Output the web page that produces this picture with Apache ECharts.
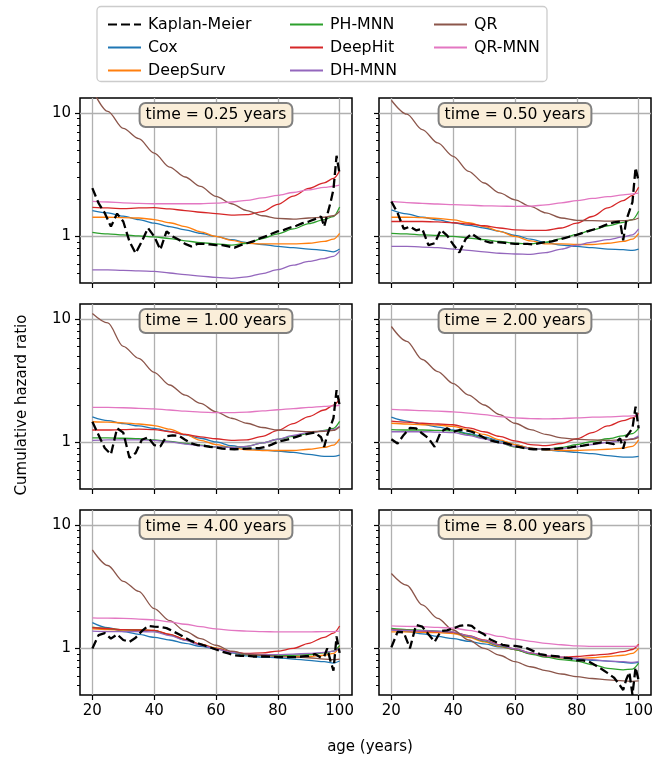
<!DOCTYPE html>
<html><head><meta charset="utf-8">
<script src="https://cdn.jsdelivr.net/npm/echarts@6/dist/echarts.min.js"></script>
<style>html,body{margin:0;padding:0;background:#fff}#c{width:667px;height:766px}</style>
</head><body><div id="c"></div>
<script>
// ---------------- data ----------------
const TIMES = ['0.25', '0.50', '1.00', '2.00', '4.00', '8.00'];
const X_TICKS = [20, 40, 60, 80, 100];
const Y_MAJOR = [1, 10];
const Y_MINOR = [0.5, 0.6, 0.7, 0.8, 0.9, 2, 3, 4, 5, 6, 7, 8, 9];

const AGE = [20, 25, 30, 35, 40, 45, 50, 55, 60, 65, 70, 75, 80, 85, 90, 95, 98, 100];
const KM_AGE = [20, 22, 24, 26, 28, 30, 32, 34, 36, 38, 40, 42, 44, 46, 48, 50, 52, 54, 56, 58,
  60, 62, 64, 66, 68, 70, 72, 74, 76, 78, 80, 82, 84, 86, 88, 90, 92, 94, 95, 96, 97, 98, 99, 100];

const KM = [
  [2.46, 1.86, 1.55, 1.2, 1.53, 1.32, 0.91, 0.73, 0.91, 1.17, 1.0, 0.78, 1.1, 1.0, 0.94, 0.87, 0.83, 0.87, 0.87, 0.86,
   0.85, 0.85, 0.83, 0.81, 0.85, 0.88, 0.91, 0.96, 1.0, 1.05, 1.1, 1.13, 1.18, 1.22, 1.28, 1.32, 1.38, 1.45, 1.2, 1.5, 1.86, 2.4, 4.5, 3.2],
  [1.92, 1.55, 1.15, 1.2, 1.12, 1.15, 0.85, 0.88, 1.13, 1.02, 0.86, 0.74, 0.95, 1.05, 0.97, 0.92, 0.89, 0.9, 0.89, 0.88,
   0.87, 0.87, 0.87, 0.86, 0.88, 0.9, 0.91, 0.94, 0.97, 1.0, 1.03, 1.07, 1.11, 1.15, 1.2, 1.26, 1.3, 1.32, 0.93, 1.35, 1.6, 1.9, 3.6, 2.8],
  [1.47, 1.15, 0.9, 0.8, 1.3, 1.2, 0.75, 0.82, 1.05, 1.1, 0.95, 0.93, 1.12, 1.14, 1.13, 1.05, 0.98, 0.95, 0.94, 0.92,
   0.91, 0.89, 0.885, 0.88, 0.885, 0.89, 0.895, 0.9, 0.92, 0.96, 1.01, 1.04, 1.07, 1.11, 1.15, 1.18, 1.2, 1.1, 0.92, 1.15, 1.34, 1.57, 2.65, 2.0],
  [1.06, 0.98, 1.15, 1.31, 1.3, 1.18, 1.08, 0.92, 1.22, 1.3, 1.22, 1.26, 1.26, 1.22, 1.16, 1.09, 1.04, 1.01, 1.0, 0.97,
   0.93, 0.91, 0.89, 0.88, 0.88, 0.88, 0.885, 0.89, 0.9, 0.91, 0.93, 0.94, 0.96, 0.98, 1.0, 0.99, 0.97, 1.08, 0.89, 1.11, 1.2, 1.3, 1.95, 1.3],
  [1.0, 1.28, 1.33, 1.2, 1.3, 1.17, 1.13, 1.22, 1.38, 1.52, 1.5, 1.49, 1.46, 1.38, 1.3, 1.22, 1.15, 1.1, 1.06, 1.02,
   0.98, 0.94, 0.91, 0.88, 0.87, 0.87, 0.86, 0.86, 0.86, 0.855, 0.85, 0.85, 0.85, 0.85, 0.86, 0.87, 0.9, 0.84, 0.86, 1.0, 0.8, 0.66, 1.25, 0.92],
  [1.02, 1.36, 1.35, 1.0, 1.55, 1.5, 1.3, 1.13, 1.38, 1.4, 1.45, 1.52, 1.55, 1.52, 1.38, 1.3, 1.18, 1.12, 1.07, 1.05,
   1.05, 1.03, 1.0, 0.95, 0.9, 0.88, 0.87, 0.86, 0.84, 0.83, 0.8, 0.8, 0.78, 0.73, 0.68, 0.63, 0.58, 0.5, 0.46, 0.56, 0.64, 0.42, 0.7, 0.55]
];

const COX = [
  [1.62, 1.55, 1.46, 1.37, 1.28, 1.2, 1.13, 1.06, 1.0, 0.94, 0.89, 0.86, 0.83, 0.81, 0.79, 0.77, 0.75, 0.79],
  [1.64, 1.52, 1.43, 1.36, 1.29, 1.23, 1.17, 1.1, 1.02, 0.95, 0.89, 0.85, 0.83, 0.81, 0.79, 0.78, 0.77, 0.79],
  [1.61, 1.5, 1.42, 1.36, 1.3, 1.23, 1.15, 1.08, 1.01, 0.94, 0.89, 0.87, 0.85, 0.83, 0.8, 0.77, 0.77, 0.79],
  [1.6, 1.49, 1.4, 1.33, 1.26, 1.18, 1.11, 1.03, 0.96, 0.9, 0.87, 0.85, 0.83, 0.81, 0.78, 0.76, 0.76, 0.77],
  [1.62, 1.47, 1.37, 1.3, 1.23, 1.17, 1.1, 1.04, 0.99, 0.92, 0.87, 0.85, 0.84, 0.82, 0.8, 0.78, 0.76, 0.79],
  [1.43, 1.37, 1.31, 1.25, 1.2, 1.14, 1.09, 1.03, 0.98, 0.91, 0.86, 0.84, 0.82, 0.8, 0.79, 0.77, 0.76, 0.77]
];
const DEEPSURV = [
  [1.43, 1.43, 1.42, 1.41, 1.37, 1.29, 1.2, 1.09, 1.0, 0.93, 0.88, 0.87, 0.87, 0.87, 0.88, 0.91, 0.95, 1.06],
  [1.43, 1.43, 1.42, 1.4, 1.36, 1.29, 1.2, 1.1, 1.0, 0.92, 0.87, 0.87, 0.86, 0.86, 0.88, 0.91, 0.95, 1.06],
  [1.47, 1.46, 1.44, 1.41, 1.37, 1.28, 1.16, 1.04, 0.96, 0.91, 0.87, 0.86, 0.86, 0.86, 0.88, 0.91, 0.95, 1.07],
  [1.43, 1.41, 1.39, 1.38, 1.35, 1.26, 1.16, 1.05, 0.96, 0.9, 0.87, 0.86, 0.86, 0.87, 0.88, 0.9, 0.93, 1.05],
  [1.44, 1.42, 1.41, 1.41, 1.4, 1.3, 1.18, 1.08, 1.01, 0.94, 0.89, 0.88, 0.87, 0.86, 0.86, 0.88, 0.91, 1.04],
  [1.36, 1.36, 1.35, 1.34, 1.32, 1.23, 1.13, 1.04, 0.98, 0.91, 0.86, 0.84, 0.83, 0.84, 0.86, 0.88, 0.91, 1.0]
];
const PH_MNN = [
  [1.08, 1.05, 1.03, 1.01, 0.99, 0.96, 0.92, 0.89, 0.87, 0.85, 0.88, 0.96, 1.05, 1.15, 1.27, 1.37, 1.45, 1.73],
  [1.06, 1.05, 1.03, 1.02, 1.0, 0.97, 0.94, 0.91, 0.88, 0.87, 0.9, 0.96, 1.04, 1.13, 1.22, 1.3, 1.37, 1.6],
  [1.09, 1.09, 1.08, 1.07, 1.05, 1.02, 0.98, 0.95, 0.92, 0.91, 0.93, 0.99, 1.06, 1.12, 1.18, 1.25, 1.3, 1.48],
  [1.27, 1.26, 1.26, 1.25, 1.24, 1.16, 1.08, 0.99, 0.92, 0.89, 0.88, 0.91, 0.96, 1.02, 1.07, 1.13, 1.18, 1.3],
  [1.49, 1.45, 1.42, 1.41, 1.39, 1.29, 1.17, 1.07, 1.0, 0.93, 0.89, 0.88, 0.88, 0.88, 0.89, 0.92, 0.95, 1.06],
  [1.45, 1.42, 1.4, 1.38, 1.35, 1.25, 1.15, 1.05, 0.98, 0.9, 0.85, 0.81, 0.79, 0.74, 0.69, 0.67, 0.68, 0.76]
];
const DEEPHIT = [
  [1.72, 1.7, 1.68, 1.7, 1.71, 1.67, 1.62, 1.57, 1.53, 1.49, 1.5, 1.59, 1.82, 2.12, 2.45, 2.72, 2.95, 3.4],
  [1.32, 1.32, 1.32, 1.31, 1.29, 1.26, 1.22, 1.17, 1.13, 1.12, 1.12, 1.17, 1.28, 1.45, 1.7, 1.95, 2.15, 2.5],
  [1.26, 1.26, 1.27, 1.28, 1.27, 1.22, 1.16, 1.11, 1.07, 1.04, 1.05, 1.12, 1.25, 1.42, 1.62, 1.83, 2.0, 2.25],
  [1.49, 1.46, 1.43, 1.41, 1.39, 1.31, 1.22, 1.12, 1.03, 0.96, 0.94, 0.98, 1.07, 1.2, 1.36, 1.5, 1.58, 1.72],
  [1.47, 1.45, 1.42, 1.41, 1.4, 1.3, 1.18, 1.08, 1.0, 0.94, 0.91, 0.92, 0.95, 1.0, 1.1, 1.23, 1.33, 1.52],
  [1.42, 1.4, 1.38, 1.37, 1.35, 1.27, 1.17, 1.07, 0.99, 0.92, 0.87, 0.85, 0.86, 0.88, 0.9, 0.94, 0.98, 1.08]
];
const DH_MNN = [
  [0.535, 0.535, 0.53, 0.525, 0.52, 0.505, 0.49, 0.477, 0.465, 0.457, 0.47, 0.5, 0.537, 0.585, 0.627, 0.66, 0.69, 0.76],
  [0.83, 0.83, 0.82, 0.81, 0.79, 0.77, 0.75, 0.73, 0.72, 0.715, 0.74, 0.79, 0.85, 0.9, 0.94, 0.99, 1.03, 1.15],
  [1.04, 1.05, 1.05, 1.05, 1.04, 1.01, 0.97, 0.94, 0.92, 0.91, 0.93, 0.99, 1.06, 1.14, 1.2, 1.24, 1.27, 1.35],
  [1.22, 1.22, 1.22, 1.21, 1.2, 1.14, 1.07, 0.99, 0.93, 0.89, 0.88, 0.89, 0.92, 0.96, 1.0, 1.04, 1.07, 1.13],
  [1.38, 1.37, 1.37, 1.37, 1.36, 1.27, 1.16, 1.06, 0.99, 0.93, 0.9, 0.89, 0.89, 0.9, 0.91, 0.93, 0.95, 1.01],
  [1.41, 1.4, 1.39, 1.38, 1.36, 1.26, 1.16, 1.06, 0.99, 0.92, 0.87, 0.85, 0.83, 0.81, 0.79, 0.78, 0.77, 0.78]
];
const QR = [
  [15.5, 10.3, 7.5, 6.2, 4.74, 3.65, 3.03, 2.54, 2.11, 1.84, 1.62, 1.47, 1.4, 1.38, 1.41, 1.43, 1.47, 1.6],
  [12.7, 9.8, 7.34, 5.72, 4.46, 3.37, 2.71, 2.25, 1.98, 1.75, 1.55, 1.41, 1.35, 1.34, 1.33, 1.34, 1.36, 1.41],
  [11.1, 9.3, 6.0, 4.8, 3.7, 2.92, 2.42, 2.07, 1.77, 1.57, 1.43, 1.32, 1.26, 1.24, 1.22, 1.23, 1.25, 1.34],
  [8.7, 6.6, 4.7, 3.75, 3.0, 2.42, 2.01, 1.68, 1.43, 1.27, 1.16, 1.09, 1.06, 1.05, 1.04, 1.05, 1.06, 1.1],
  [6.3, 4.7, 3.5, 2.9, 2.1, 1.68, 1.38, 1.2, 1.06, 0.95, 0.9, 0.88, 0.86, 0.85, 0.84, 0.82, 0.81, 0.82],
  [4.05, 3.25, 2.25, 1.75, 1.41, 1.17, 1.0, 0.88, 0.78, 0.71, 0.66, 0.62, 0.59, 0.57, 0.555, 0.545, 0.54, 0.545]
];
const QR_MNN = [
  [1.92, 1.9, 1.87, 1.85, 1.84, 1.84, 1.84, 1.84, 1.86, 1.9, 1.96, 2.05, 2.15, 2.27, 2.38, 2.5, 2.55, 2.6],
  [1.92, 1.88, 1.85, 1.83, 1.81, 1.79, 1.77, 1.76, 1.75, 1.76, 1.8, 1.87, 1.95, 2.03, 2.1, 2.17, 2.21, 2.24],
  [1.92, 1.92, 1.91, 1.89, 1.87, 1.83, 1.79, 1.76, 1.74, 1.74, 1.76, 1.8, 1.84, 1.88, 1.92, 1.96, 1.98, 2.0],
  [1.85, 1.83, 1.81, 1.79, 1.77, 1.73, 1.68, 1.62, 1.58, 1.56, 1.55, 1.56, 1.58, 1.6, 1.61, 1.63, 1.64, 1.66],
  [1.77, 1.76, 1.75, 1.73, 1.7, 1.64, 1.57, 1.5, 1.44, 1.4, 1.38, 1.37, 1.36, 1.36, 1.36, 1.37, 1.37, 1.38],
  [1.52, 1.51, 1.5, 1.48, 1.46, 1.4, 1.33, 1.25, 1.19, 1.14, 1.1, 1.07, 1.05, 1.04, 1.04, 1.04, 1.04, 1.05]
];

// ---------------- styling / layout ----------------
const FONT = 'DejaVu Sans';
const MODELS = [
  ['Cox', COX, '#1f77b4'],
  ['DeepSurv', DEEPSURV, '#ff7f0e'],
  ['PH-MNN', PH_MNN, '#2ca02c'],
  ['DeepHit', DEEPHIT, '#d62728'],
  ['DH-MNN', DH_MNN, '#9467bd'],
  ['QR', QR, '#8c564b'],
  ['QR-MNN', QR_MNN, '#e377c2']
];
const GRID_LEFT = [80, 379, 80, 379, 80, 379];
const GRID_TOP = [98, 98, 304, 304, 510, 510];
const GW = 272, GH = 185;
const XMIN = 16, XMAX = 104, YMIN = 0.419, YMAX = 13.24;

const grids = [], xAxes = [], yAxes = [], series = [], graphics = [];
for (let i = 0; i < 6; i++) {
  const leftCol = i % 2 === 0, bottom = i >= 4;
  grids.push({ left: GRID_LEFT[i], top: GRID_TOP[i], width: GW, height: GH, show: true,
    borderColor: '#000', borderWidth: 1.5, backgroundColor: 'transparent', containLabel: false });
  xAxes.push({ type: 'value', gridIndex: i, min: XMIN, max: XMAX, position: 'bottom',
    axisLine: { show: false },
    axisTick: { show: true, customValues: X_TICKS, length: 5, lineStyle: { color: '#000', width: 1.2 } },
    axisLabel: { show: bottom, customValues: X_TICKS, margin: 9, fontSize: 15, fontFamily: FONT, color: '#000' },
    splitLine: { show: true, lineStyle: { color: '#b0b0b0', width: 1.3 } } });
  // minor ticks axis
  yAxes.push({ type: 'log', logBase: 10, gridIndex: i, min: YMIN, max: YMAX, position: 'left', offset: 0,
    axisLine: { show: false },
    axisTick: { show: true, customValues: Y_MINOR, length: 3, lineStyle: { color: '#000', width: 1 } },
    axisLabel: { show: false, customValues: Y_MINOR },
    splitLine: { show: false } });
  // major ticks axis
  yAxes.push({ type: 'log', logBase: 10, gridIndex: i, min: YMIN, max: YMAX, position: 'left', offset: 0,
    axisLine: { show: false },
    axisTick: { show: true, customValues: Y_MAJOR, length: 5, lineStyle: { color: '#000', width: 1.2 } },
    axisLabel: { show: leftCol, customValues: Y_MAJOR, margin: 9, fontSize: 15, fontFamily: FONT, color: '#000',
      formatter: v => String(Math.round(v)) },
    splitLine: { show: true, lineStyle: { color: '#b0b0b0', width: 1.3 } } });

  MODELS.forEach(([name, arr, color]) => {
    series.push({ type: 'line', name, xAxisIndex: i, yAxisIndex: 2 * i + 1,
      data: AGE.map((a, j) => [a, arr[i][j]]),
      symbol: 'none', showSymbol: false, smooth: 0.3, smoothMonotone: 'x', clip: true,
      lineStyle: { color, width: 1.3 }, itemStyle: { color }, z: 2, silent: true });
  });
  series.push({ type: 'line', name: 'Kaplan-Meier', xAxisIndex: i, yAxisIndex: 2 * i + 1,
    data: KM_AGE.map((a, j) => [a, KM[i][j]]),
    symbol: 'none', showSymbol: false, clip: true,
    lineStyle: { color: '#000', width: 2.3, type: [9, 4] }, itemStyle: { color: '#000' }, z: 4, silent: true });

  graphics.push({ type: 'text', x: GRID_LEFT[i] + GW / 2, y: GRID_TOP[i] + 6, z: 10,
    style: { text: 'time = ' + TIMES[i] + ' years', font: '15.6px "DejaVu Sans"', fill: '#000',
      align: 'center', verticalAlign: 'top', textAlign: 'center', textVerticalAlign: 'top',
      backgroundColor: '#faeed9', borderColor: '#808080', borderWidth: 2, borderRadius: 5, padding: [3, 5] } });
}

graphics.push({ type: 'rect', shape: { x: 97, y: 6.5, width: 450, height: 75, r: 4 }, z: 0,
  style: { fill: '#fff', stroke: '#cccccc', lineWidth: 1.3 } });
graphics.push({ type: 'text', x: 22, y: 405, rotation: Math.PI / 2, z: 10,
  style: { text: 'Cumulative hazard ratio', font: '15px "DejaVu Sans"', fill: '#000',
    align: 'center', verticalAlign: 'middle', textAlign: 'center', textVerticalAlign: 'middle' } });
graphics.push({ type: 'text', x: 370, y: 747, z: 10,
  style: { text: 'age (years)', font: '15px "DejaVu Sans"', fill: '#000',
    align: 'center', verticalAlign: 'middle', textAlign: 'center', textVerticalAlign: 'middle' } });

const legendBase = { orient: 'vertical', top: 11, itemWidth: 33, itemHeight: 14, itemGap: 6, selectedMode: false,
  itemStyle: { opacity: 0 },
  textStyle: { fontSize: 15.8, lineHeight: 17, fontFamily: FONT, color: '#000', padding: [0, 0, 0, 2] } };
const legends = [
  Object.assign({}, legendBase, { left: 102, data: ['Kaplan-Meier', 'Cox', 'DeepSurv'] }),
  Object.assign({}, legendBase, { left: 284, data: ['PH-MNN', 'DeepHit', 'DH-MNN'] }),
  Object.assign({}, legendBase, { left: 428, data: ['QR', 'QR-MNN'] })
];

const chart = echarts.init(document.getElementById('c'), null, { renderer: 'canvas' });
chart.setOption({
  animation: false,
  backgroundColor: '#fff',
  textStyle: { fontFamily: FONT },
  grid: grids, xAxis: xAxes, yAxis: yAxes, series, legend: legends, graphic: graphics
});
</script></body></html>
